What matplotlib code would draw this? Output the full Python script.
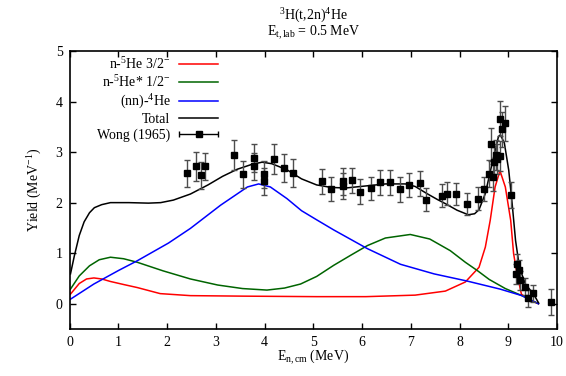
import numpy as np
import matplotlib
matplotlib.use("Agg")
import matplotlib.pyplot as plt
from matplotlib.legend_handler import HandlerErrorbar

plt.rcParams['font.family'] = ['Liberation Serif', 'DejaVu Serif']
plt.rcParams['mathtext.fontset'] = 'custom'
plt.rcParams['mathtext.rm'] = 'Liberation Serif'
plt.rcParams['mathtext.it'] = 'Liberation Serif:italic'
plt.rcParams['font.size'] = 10

# model components
x_red = [0.02, 0.2, 0.35, 0.50, 0.66, 0.84, 1.11, 1.39, 1.86, 2.48, 3.55, 5.07,
         6.08, 7.09, 7.71, 8.12, 8.40, 8.53, 8.63, 8.73, 8.83, 8.94, 9.05, 9.11,
         9.18, 9.27, 9.42, 9.62]
y_red = [0.19, 0.40, 0.49, 0.51, 0.49, 0.44, 0.38, 0.32, 0.20, 0.16, 0.15, 0.14,
         0.14, 0.17, 0.25, 0.43, 0.72, 1.12, 1.65, 2.31, 2.63, 2.31, 1.65, 0.99,
         0.59, 0.19, 0.08, 0.0]

x_green = [0.02, 0.2, 0.41, 0.61, 0.84, 1.11, 1.39, 1.92, 2.48, 3.04, 3.55, 4.05,
           4.41, 4.74, 5.07, 5.42, 5.77, 6.11, 6.48, 6.99, 7.39, 7.81, 8.12, 8.36,
           8.61, 8.94, 9.28, 9.62]
y_green = [0.29, 0.55, 0.75, 0.87, 0.92, 0.89, 0.82, 0.65, 0.49, 0.37, 0.30, 0.27,
           0.31, 0.39, 0.54, 0.76, 0.96, 1.15, 1.30, 1.37, 1.28, 1.05, 0.82, 0.66,
           0.48, 0.30, 0.16, 0.0]

x_blue = [0.02, 0.50, 1.01, 1.39, 2.03, 2.48, 3.10, 3.65, 3.88, 4.12, 4.46, 4.76,
          5.07, 5.42, 6.11, 6.79, 7.48, 8.15, 8.83, 9.28, 9.62]
y_blue = [0.09, 0.39, 0.66, 0.85, 1.20, 1.49, 1.95, 2.31, 2.37, 2.31, 2.08, 1.84,
          1.66, 1.46, 1.09, 0.78, 0.59, 0.45, 0.29, 0.16, 0.0]

x_total = [0.02, 0.1, 0.2, 0.3, 0.41, 0.51, 0.66, 0.84, 1.22, 1.62, 1.87, 2.13,
           2.48, 2.84, 3.14, 3.44, 3.75, 3.95, 4.15, 4.46, 4.76, 5.07, 5.37, 5.67,
           6.08, 6.48, 6.89, 7.09, 7.33, 7.55, 7.71, 7.95, 8.18, 8.31, 8.40, 8.53,
           8.67, 8.80, 8.84, 8.92, 9.01, 9.08, 9.15, 9.23, 9.35, 9.52, 9.62]
y_total = [0.59, 0.95, 1.35, 1.62, 1.80, 1.90, 1.96, 2.00, 2.00, 1.99, 2.00, 2.05,
           2.17, 2.35, 2.52, 2.66, 2.76, 2.80, 2.77, 2.65, 2.47, 2.35, 2.30, 2.29,
           2.33, 2.37, 2.37, 2.32, 2.18, 2.06, 1.98, 1.85, 1.76, 1.78, 1.86, 2.18,
           2.78, 3.31, 3.34, 3.18, 2.64, 1.98, 1.25, 0.72, 0.39, 0.19, 0.02]

# Wong (1965) measurements
x_exp = [2.40, 2.59, 2.70, 2.78, 3.37, 3.56, 3.78, 3.79, 3.99, 3.99, 4.19, 4.39,
         4.59, 5.18, 5.37, 5.62, 5.62, 5.80, 5.96, 6.18, 6.36, 6.58, 6.78, 6.97,
         7.18, 7.32, 7.64, 7.75, 7.93, 8.15, 8.38, 8.50, 8.61, 8.65, 8.69, 8.70,
         8.74, 8.77, 8.84, 8.84, 8.87, 8.94, 9.06, 9.15, 9.18, 9.23, 9.24, 9.34,
         9.41, 9.50, 9.87]
y_exp = [2.58, 2.72, 2.54, 2.72, 2.94, 2.56, 2.88, 2.72, 2.56, 2.42, 2.86, 2.68,
         2.58, 2.42, 2.27, 2.42, 2.33, 2.44, 2.22, 2.28, 2.40, 2.40, 2.26, 2.35,
         2.38, 2.06, 2.14, 2.18, 2.17, 1.97, 2.08, 2.27, 2.57, 3.15, 2.50, 2.81,
         2.94, 2.86, 2.92, 3.66, 3.45, 3.57, 2.15, 0.59, 0.78, 0.67, 0.46, 0.34,
         0.11, 0.21, 0.04]
e_exp = [0.27, 0.29, 0.27, 0.27, 0.29, 0.27, 0.28, 0.27, 0.27, 0.27, 0.29, 0.28,
         0.28, 0.25, 0.24, 0.27, 0.25, 0.24, 0.24, 0.23, 0.25, 0.25, 0.24, 0.24,
         0.24, 0.22, 0.22, 0.22, 0.22, 0.22, 0.22, 0.24, 0.27, 0.33, 0.27, 0.30,
         0.30, 0.30, 0.30, 0.35, 0.34, 0.35, 0.25, 0.20, 0.20, 0.20, 0.18, 0.17,
         0.17, 0.17, 0.26]

fig = plt.figure(figsize=(5.66, 3.76), dpi=100)
ax = fig.add_axes([0.1228, 0.125, 0.8613, 0.7394])

lw = 1.1
ax.plot(x_red, y_red, color='#ff0000', lw=lw, label=r'n-$^{5}$He 3/2$^{-}$')
ax.plot(x_green, y_green, color='#006400', lw=lw, label=r'n-$^{5}$He* 1/2$^{-}$')
ax.plot(x_blue, y_blue, color='#0000ff', lw=lw, label=r'(nn)-$^{4}$He')
ax.plot(x_total, y_total, color='black', lw=lw, label='Total')
ax.errorbar(x_exp, y_exp, yerr=e_exp, fmt='s', color='black', ms=5,
            ecolor='0.3', elinewidth=1, capsize=2.5, capthick=1, zorder=5)

# legend proxy with a horizontal bar, gnuplot style
proxy = ax.errorbar([np.nan], [np.nan], xerr=[1], fmt='s', color='black', ms=5,
                    elinewidth=1, capsize=2.5, capthick=1, label='Wong (1965)')

handles, labels = ax.get_legend_handles_labels()
ax.legend(handles, labels, loc='upper right', bbox_to_anchor=(0.305, 0.982),
          frameon=False, markerfirst=False, handlelength=2.8, handletextpad=0.65,
          labelspacing=0.17, borderpad=0, borderaxespad=0, numpoints=1,
          handler_map={type(proxy): HandlerErrorbar(xerr_size=1.4)})

ax.set_xlim(0, 10)
ax.set_ylim(-0.5, 5)
ax.set_xticks(range(0, 11))
ax.set_yticks(range(0, 6))
ax.tick_params(direction='in', top=True, right=True, length=4.5, width=1,
               labelsize=10, pad=5)
for s in ax.spines.values():
    s.set_linewidth(1.2)

ax.set_xlabel(r'E$_{\rm n,cm}$ (MeV)', labelpad=-1)
ax.set_ylabel(r'Yield (MeV$^{-1}$)', labelpad=8)
ax.set_title(r'$^{3}$H(t,2n)$^{4}$He' + '\n' + r'E$_{\rm t,lab}$ = 0.5 MeV',
             fontsize=10, linespacing=0.85, pad=11)

fig.savefig('out.png', dpi=100)
